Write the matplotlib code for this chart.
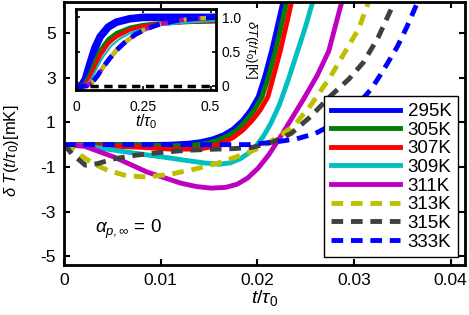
import numpy as np
import matplotlib
matplotlib.use("Agg")
import matplotlib.pyplot as plt

plt.rcParams['font.family'] = ['Liberation Sans', 'DejaVu Sans']
plt.rcParams['mathtext.fontset'] = 'custom'
plt.rcParams['mathtext.rm'] = 'Liberation Sans'
plt.rcParams['mathtext.it'] = 'Liberation Sans:italic'
plt.rcParams['mathtext.bf'] = 'Liberation Sans:bold'

# ---- main panel data: t/tau0 vs dT [mK]
labels = ['295K', '305K', '307K', '309K', '311K', '313K', '315K', '333K']
colors = ['#0000ff', '#008000', '#ff0000', '#00bfbf', '#bf00bf', '#bfbf00', '#404040', '#0000ff']
styles = ['-', '-', '-', '-', '-', '--', '--', '--']

x295 = [0, 0.004, 0.008, 0.011, 0.013, 0.0142, 0.0154, 0.0165, 0.0175, 0.0185, 0.0193, 0.0201, 0.0208, 0.0215, 0.0221, 0.0227]
y295 = [0, 0, 0, 0.02, 0.07, 0.14, 0.26, 0.44, 0.7, 1.1, 1.55, 2.15, 3.1, 4.24, 5.36, 6.5]
x305 = [0, 0.004, 0.008, 0.011, 0.013, 0.0145, 0.0158, 0.0169, 0.0179, 0.0189, 0.0197, 0.0205, 0.0212, 0.0219, 0.0225, 0.0231]
y305 = [0, 0, -0.02, -0.05, -0.04, 0.04, 0.18, 0.38, 0.65, 1.1, 1.55, 2.15, 3.1, 4.24, 5.36, 6.5]
x307 = [0, 0.004, 0.008, 0.011, 0.014, 0.0152, 0.0164, 0.0175, 0.0185, 0.0195, 0.0203, 0.0211, 0.0217, 0.0224, 0.023, 0.0236]
y307 = [0, -0.05, -0.12, -0.2, -0.2, -0.1, 0.08, 0.32, 0.65, 1.1, 1.55, 2.15, 3.1, 4.24, 5.36, 6.5]
x309 = [0, 0.0027, 0.0052, 0.0079, 0.0103, 0.0125, 0.0145, 0.016, 0.0172, 0.0183, 0.0192, 0.0199, 0.0206, 0.0214, 0.0223, 0.0232, 0.0241, 0.025, 0.0258]
y309 = [0, -0.08, -0.25, -0.42, -0.56, -0.7, -0.82, -0.88, -0.82, -0.62, -0.35, -0.05, 0.35, 0.95, 1.8, 2.9, 4.1, 5.3, 6.5]
x311 = [0, 0.0021, 0.0052, 0.0086, 0.0121, 0.0137, 0.0152, 0.0167, 0.0179, 0.019, 0.0201, 0.0212, 0.0224, 0.0236, 0.0248, 0.0262, 0.0274, 0.0288]
y311 = [0, -0.07, -0.56, -1.23, -1.73, -1.88, -1.95, -1.92, -1.78, -1.5, -1.05, -0.45, 0.35, 1.2, 2.05, 3.1, 4.2, 6.5]
x313 = [0, 0.0008, 0.0018, 0.003, 0.0045, 0.0065, 0.0085, 0.011, 0.0135, 0.016, 0.0185, 0.0202, 0.0222, 0.0238, 0.0255, 0.0275, 0.029, 0.0305, 0.0316]
y313 = [0, -0.15, -0.5, -0.85, -1.15, -1.4, -1.45, -1.33, -1.1, -0.82, -0.45, -0.15, 0.35, 0.85, 1.75, 3.0, 4.1, 5.2, 6.5]
x315 = [0, 0.0008, 0.0022, 0.0035, 0.005, 0.0075, 0.01, 0.0125, 0.015, 0.0175, 0.0195, 0.0215, 0.0235, 0.0255, 0.0275, 0.0295, 0.031, 0.0325, 0.0343]
y315 = [0, -0.4, -0.92, -0.85, -0.65, -0.47, -0.35, -0.26, -0.21, -0.18, -0.12, 0.1, 0.5, 1.25, 2.15, 2.95, 3.7, 4.8, 6.5]
x333 = [0, 0.005, 0.01, 0.015, 0.019, 0.0215, 0.024, 0.026, 0.028, 0.03, 0.0318, 0.033, 0.0345, 0.0355, 0.0367]
y333 = [0, 0, 0, 0, 0, 0.1, 0.25, 0.5, 0.95, 1.6, 2.5, 3.3, 4.4, 5.3, 6.5]

# ---- inset data: t/tau0 vs dT [K]
ix_fast = [0, 0.02, 0.035, 0.05, 0.07, 0.09, 0.12, 0.15, 0.2, 0.25, 0.3, 0.4, 0.52]
iy295 = [0, 0.0, 0.1, 0.3, 0.55, 0.72, 0.86, 0.93, 0.98, 1.0, 1.0, 1.0, 1.0]
ix_mid = [0, 0.03, 0.05, 0.07, 0.09, 0.12, 0.15, 0.2, 0.25, 0.3, 0.4, 0.52]
iy305 = [0, 0.02, 0.15, 0.35, 0.52, 0.68, 0.77, 0.85, 0.89, 0.91, 0.93, 0.94]
iy307 = [0, 0.01, 0.1, 0.28, 0.45, 0.62, 0.72, 0.82, 0.87, 0.9, 0.93, 0.95]
ix309 = [0, 0.04, 0.06, 0.08, 0.1, 0.13, 0.16, 0.2, 0.25, 0.3, 0.4, 0.52]
iy309 = [0, 0.02, 0.12, 0.28, 0.42, 0.58, 0.68, 0.77, 0.84, 0.88, 0.92, 0.95]
ix_slow = [0, 0.04, 0.06, 0.08, 0.1, 0.125, 0.15, 0.18, 0.22, 0.26, 0.31, 0.37, 0.43, 0.52]
iy311 = [0, 0.0, 0.05, 0.15, 0.27, 0.4, 0.52, 0.63, 0.75, 0.83, 0.9, 0.95, 0.98, 1.0]
iy313 = [0, 0.0, 0.05, 0.15, 0.27, 0.4, 0.52, 0.63, 0.75, 0.83, 0.9, 0.95, 0.98, 1.0]
iy333 = [0, 0.0, 0.05, 0.15, 0.27, 0.4, 0.52, 0.63, 0.75, 0.83, 0.9, 0.95, 0.98, 1.0]
ix315 = [0, 0.52]
iy315 = [0, 0]

main_x = [x295, x305, x307, x309, x311, x313, x315, x333]
main_y = [y295, y305, y307, y309, y311, y313, y315, y333]
ins_x = [ix_fast, ix_mid, ix_mid, ix309, ix_slow, ix_slow, ix315, ix_slow]
ins_y = [iy295, iy305, iy307, iy309, iy311, iy313, iy315, iy333]
ins_lw = [5.5, 3, 3, 1.5, 3, 3, 2.5, 3.5]

fig = plt.figure(figsize=(4.69, 3.15), dpi=100)
ax = fig.add_axes([0.1365, 0.1587, 0.855, 0.835])

for xs, ys, c, ls, lab in zip(main_x, main_y, colors, styles, labels):
    if ls == '--':
        ax.plot(xs, ys, color=c, lw=3.5, dashes=(2.4, 1.6), label=lab)
    else:
        ax.plot(xs, ys, color=c, lw=3.5, label=lab)

ax.set_xlim(0, 0.0415)
ax.set_ylim(-5.4, 6.4)
ax.set_xticks([0, 0.01, 0.02, 0.03, 0.04])
ax.set_xticklabels(['0', '0.01', '0.02', '0.03', '0.04'])
ax.set_yticks([-5, -3, -1, 1, 3, 5])
ax.set_yticklabels(['-5', '-3', '-1', '1', '3', '5'])
ax.tick_params(direction='in', top=True, right=True, length=4, width=1.5, labelsize=12.5, pad=6)
for s in ax.spines.values():
    s.set_linewidth(2)
ax.set_xlabel(r'$t/\tau_0$', fontsize=14, labelpad=0)
ax.set_ylabel(r'$\delta\ T(t/\tau_0)$[mK]', fontsize=12)
ax.yaxis.set_label_coords(-0.108, 0.433)
ax.text(0.0032, -3.95, r'$\alpha_{p,\infty}$ = 0', fontsize=13.5)

leg = ax.legend(loc='lower right', bbox_to_anchor=(0.9825, 0.03), borderaxespad=0,
                fontsize=13.5, handlelength=3.7, labelspacing=0.08, fancybox=False,
                edgecolor='black', framealpha=1, borderpad=0.35, handletextpad=0.4)
leg.get_frame().set_linewidth(1)

# ---- inset
ins = fig.add_axes([0.162, 0.714, 0.2985, 0.257])
for xs, ys, c, ls, lw in zip(ins_x, ins_y, colors, styles, ins_lw):
    if ls == '--':
        ins.plot(xs, ys, color=c if c != '#404040' else 'black', lw=lw, dashes=(2.4, 1.6))
    else:
        ins.plot(xs, ys, color=c, lw=lw)
ins.set_xlim(0, 0.52)
ins.set_ylim(-0.06, 1.12)
ins.set_xticks([0, 0.25, 0.5])
ins.set_xticklabels(['0', '0.25', '0.5'])
ins.set_yticks([0, 0.5, 1.0])
ins.set_yticklabels(['0', '0.5', '1.0'])
ins.yaxis.tick_right()
ins.yaxis.set_label_position('right')
ins.tick_params(direction='in', top=True, left=True, right=True, length=3, width=1.2,
                labelsize=10, pad=4)
ins.tick_params(axis='x', pad=7)
for s in ins.spines.values():
    s.set_linewidth(2)
ins.set_xlabel(r'$t/\tau_0$', fontsize=11.5, labelpad=-1)
ins.set_ylabel(r'$\delta T(t/\tau_0)$[K]', fontsize=9.5, rotation=270, labelpad=13)

fig.savefig('out.png', dpi=100)
